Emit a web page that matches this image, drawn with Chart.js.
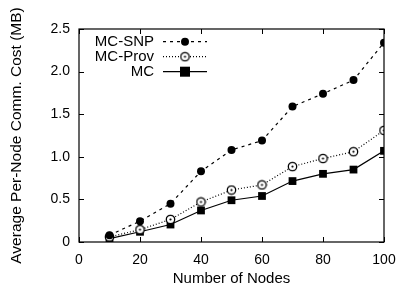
<!DOCTYPE html>
<html><head><meta charset="utf-8">
<script src="https://cdn.jsdelivr.net/npm/chart.js@4"></script>
<style>html,body{margin:0;padding:0;background:#fff}#w{width:400px;height:289px}</style>
</head><body><div id="w"><canvas id="c"></canvas></div>
<script>
const nodes = [10, 20, 30, 40, 50, 60, 70, 80, 90, 100];
const mcSnp = [0.08, 0.245, 0.45, 0.83, 1.08, 1.19, 1.59, 1.74, 1.90, 2.34];
const mcProv = [0.06, 0.145, 0.265, 0.47, 0.61, 0.67, 0.885, 0.98, 1.06, 1.31];
const mc = [0.04, 0.12, 0.205, 0.37, 0.49, 0.54, 0.715, 0.80, 0.85, 1.07];
const xTicks = [0, 20, 40, 60, 80, 100];
const yTicks = [0, 0.5, 1, 1.5, 2, 2.5];
const seriesNames = ['MC-SNP', 'MC-Prov', 'MC'];

const FONT = 'Liberation Sans, Arial, Helvetica, sans-serif';

function makeOpenCircle() {
  const c = document.createElement('canvas');
  c.width = 11; c.height = 11;
  const g = c.getContext('2d');
  g.fillStyle = '#fff'; g.strokeStyle = '#000'; g.lineWidth = 1.3;
  g.beginPath(); g.arc(5.5, 5.5, 4.2, 0, Math.PI * 2); g.fill(); g.stroke();
  g.fillStyle = '#000';
  g.beginPath(); g.arc(5.5, 5.5, 1.1, 0, Math.PI * 2); g.fill();
  return c;
}
const openCircle = makeOpenCircle();

function pts(arr) { return nodes.map((n, i) => ({x: n, y: arr[i]})); }

const datasets = [
  {label: seriesNames[0], data: pts(mcSnp), borderColor: '#000', backgroundColor: '#000', borderWidth: 1.2,
   borderDash: [3, 4], pointStyle: 'circle', pointRadius: 4, pointBorderWidth: 0},
  {label: seriesNames[1], data: pts(mcProv), borderColor: '#000', backgroundColor: '#fff', borderWidth: 1.2,
   borderDash: [1, 2], pointStyle: openCircle, pointRadius: 5},
  {label: seriesNames[2], data: pts(mc), borderColor: '#000', backgroundColor: '#000', borderWidth: 1.2,
   pointStyle: 'rect', pointRadius: 5.5, pointBorderWidth: 0}
];

const framePlugin = {
  id: 'frame',
  afterDatasetsDraw(chart) {
    const g = chart.ctx, a = chart.chartArea;
    const xs = chart.scales.x, ys = chart.scales.y;
    g.save();
    g.strokeStyle = '#000'; g.lineWidth = 1.2; g.setLineDash([]);
    g.strokeRect(a.left, a.top, a.right - a.left, a.bottom - a.top);
    g.lineWidth = 1;
    g.beginPath();
    const T = 5;
    xTicks.forEach(v => { const p = Math.round(xs.getPixelForValue(v)) + 0.5;
      g.moveTo(p, a.bottom); g.lineTo(p, a.bottom - T); g.moveTo(p, a.top); g.lineTo(p, a.top + T); });
    yTicks.forEach(v => { const p = Math.round(ys.getPixelForValue(v)) + 0.5;
      g.moveTo(a.left, p); g.lineTo(a.left + T, p); g.moveTo(a.right, p); g.lineTo(a.right - T, p); });
    g.stroke();
    // legend
    g.font = '15px ' + FONT; g.fillStyle = '#000'; g.textAlign = 'right'; g.textBaseline = 'middle';
    const rows = [41.7, 56.7, 71.7];
    const tx = 154, l0 = 163, l1 = 207, mx = 185;
    datasets.forEach((d, i) => {
      const y = rows[i];
      g.fillStyle = '#000';
      g.fillText(d.label, tx, y + 0.5);
      g.setLineDash(d.borderDash || []); g.lineWidth = d.borderWidth; g.strokeStyle = '#000';
      g.beginPath(); g.moveTo(l0, y); g.lineTo(l1, y); g.stroke();
      g.setLineDash([]);
      if (i === 0) { g.beginPath(); g.arc(mx, y, 4, 0, Math.PI * 2); g.fill(); }
      else if (i === 1) { g.drawImage(openCircle, mx - 5.5, y - 5.5); }
      else { g.fillRect(mx - 5, y - 5, 10, 10); }
    });
    g.restore();
  }
};

new Chart(document.getElementById('c'), {
  type: 'line',
  data: {datasets},
  plugins: [framePlugin],
  options: {
    responsive: true, maintainAspectRatio: false, animation: false,
    layout: {autoPadding: false, padding: {top: 29, right: 16, left: 0, bottom: 0}},
    plugins: {legend: {display: false}, tooltip: {enabled: false}},
    scales: {
      x: {type: 'linear', min: 0, max: 100,
        afterFit(s) { s.height = 47; s.paddingLeft = 0; s.paddingRight = 0; },
        afterBuildTicks(s) { s.ticks = xTicks.map(v => ({value: v})); },
        grid: {display: false, drawTicks: false}, border: {display: false},
        ticks: {color: '#000', font: {family: FONT, size: 14}, padding: 10, maxRotation: 0},
        title: {display: true, text: 'Number of Nodes', color: '#000', font: {family: FONT, size: 15}, padding: {top: 4, bottom: 1}}
      },
      y: {type: 'linear', min: 0, max: 2.5,
        afterFit(s) { s.width = 79; s.paddingTop = 0; s.paddingBottom = 0; },
        afterBuildTicks(s) { s.ticks = yTicks.map(v => ({value: v})); },
        grid: {display: false, drawTicks: false}, border: {display: false},
        ticks: {color: '#000', font: {family: FONT, size: 14}, padding: 9},
        title: {display: true, text: 'Average Per-Node Comm. Cost (MB)', color: '#000', font: {family: FONT, size: 15.5}, padding: {top: 7, bottom: 0}}
      }
    }
  }
});
</script></body></html>
